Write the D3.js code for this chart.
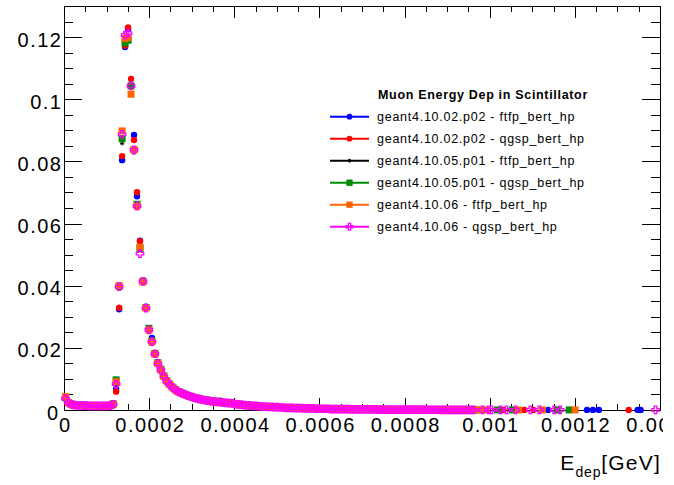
<!DOCTYPE html>
<html><head><meta charset="utf-8">
<script src="https://cdn.jsdelivr.net/npm/d3@7"></script>
<style>
html,body{margin:0;padding:0;background:#fff;}
svg{display:block;}
text{font-family:"Liberation Sans",Arial,Helvetica,sans-serif;fill:#000;}
</style></head><body>
<svg id="c" width="674" height="485"></svg>
<script>
// ---------------- DATA ----------------
// Histogram: 200 bins over [0, 0.0014] GeV
const xMin = 0, xMax = 0.0014, nBins = 200;
const yMax = 0.13;

const legendTitle = "Muon Energy Dep in Scintillator";
const seriesNames = [
  "geant4.10.02.p02 - ftfp_bert_hp",
  "geant4.10.02.p02 - qgsp_bert_hp",
  "geant4.10.05.p01 - ftfp_bert_hp",
  "geant4.10.05.p01 - qgsp_bert_hp",
  "geant4.10.06 - ftfp_bert_hp",
  "geant4.10.06 - qgsp_bert_hp"
];

// bin contents for bins 0..137
const g1002ftfp = [
0.0039,0.0022,0.0018,0.0016,0.0016,0.0015,0.0015,0.0014,0.0014,0.0014,
0.0014,0.0014,0.0013,0.0014,0.0014,0.0015,0.0017,0.0068,0.0324,0.0804,
0.1168,0.1225,0.1043,0.0885,0.0688,0.0545,0.0418,0.0332,0.0258,0.0232,
0.0183,0.0151,0.0130,0.0109,0.0093,0.0080,0.0072,0.0064,0.0058,0.0053,
0.0050,0.0046,0.0043,0.0041,0.0037,0.0035,0.0034,0.0031,0.0030,0.0028,
0.0027,0.0026,0.0030,0.0024,0.0023,0.0022,0.0021,0.0019,0.0018,0.0017,
0.0016,0.0015,0.0014,0.0013,0.0013,0.0012,0.0011,0.0011,0.0010,0.0010,
0.0009,0.0009,0.0008,0.0008,0.0007,0.0007,0.0007,0.0006,0.0006,0.0006,
0.0005,0.0005,0.0005,0.0005,0.0004,0.0004,0.0004,0.0004,0.0004,0.0003,
0.0003,0.0003,0.0003,0.0003,0.0003,0.0003,0.0002,0.0002,0.0002,0.0002,
0.0002,0.0002,0.0002,0.0002,0.0002,0.0002,0.00015,0.00015,0.00015,0.00015,
0.00015,0.00015,0.00012,0.00012,0.00012,0.00012,0.0001,0.0001,0.0001,0.0001,
0.0001,0.0001,0.0001,0.00008,0,0.00008,0.00008,0,0.00006,0.00006,
0,0.00005,0,0.00005,0,0.00004,0,0];
const g1002qgsp = [
0.0038,0.0023,0.0017,0.0016,0.0015,0.0015,0.0014,0.0014,0.0014,0.0013,
0.0013,0.0013,0.0013,0.0013,0.0014,0.0014,0.0016,0.0059,0.0329,0.0817,
0.1172,0.1231,0.1065,0.0869,0.0701,0.0543,0.0416,0.0331,0.0260,0.0221,
0.0181,0.0150,0.0128,0.0108,0.0092,0.0081,0.0071,0.0063,0.0058,0.0054,
0.0049,0.0046,0.0043,0.0040,0.0037,0.0035,0.0033,0.0031,0.0029,0.0028,
0.0027,0.0025,0.0025,0.0024,0.0023,0.0022,0.0020,0.0019,0.0018,0.0017,
0.0016,0.0015,0.0014,0.0013,0.0012,0.0012,0.0011,0.0010,0.0010,0.0009,
0.0009,0.0008,0.0008,0.0008,0.0007,0.0007,0.0006,0.0006,0.0006,0.0005,
0.0005,0.0005,0.0005,0.0004,0.0004,0.0004,0.0004,0.0003,0.0004,0.0003,
0.0003,0.0003,0.0003,0.0003,0.0002,0.0003,0.0002,0.0002,0.0002,0.0002,
0.0002,0.0002,0.0002,0.00015,0.0002,0.00015,0.00015,0.00015,0.00012,0.00015,
0.00012,0.00012,0.00012,0.0001,0.00012,0.0001,0.0001,0.0001,0.00008,0.0001,
0.00008,0.00008,0,0.00008,0.00006,0,0.00006,0.00006,0,0.00005,
0.00005,0,0.00004,0,0.00004,0,0.00003,0];
const g1005ftfp = [
0.0040,0.0023,0.0018,0.0016,0.0015,0.0015,0.0014,0.0014,0.0013,0.0014,
0.0013,0.0013,0.0013,0.0012,0.0013,0.0014,0.0018,0.0078,0.0390,0.0858,
0.1180,0.1205,0.1040,0.0828,0.0660,0.0515,0.0412,0.0329,0.0257,0.0220,
0.0180,0.0149,0.0129,0.0107,0.0092,0.0081,0.0071,0.0064,0.0057,0.0054,
0.0050,0.0046,0.0042,0.0040,0.0037,0.0035,0.0033,0.0031,0.0030,0.0028,
0.0027,0.0026,0.0024,0.0024,0.0023,0.0021,0.0021,0.0019,0.0018,0.0017,
0.0016,0.0015,0.0014,0.0013,0.0013,0.0012,0.0011,0.0011,0.0010,0.0009,
0.0009,0.0009,0.0008,0.0007,0.0007,0.0007,0.0006,0.0006,0.0006,0.0005,
0.0005,0.0005,0.0004,0.0005,0.0004,0.0004,0.0004,0.0004,0.0003,0.0003,
0.0003,0.0003,0.0003,0.0002,0.0003,0.0003,0.0002,0.0002,0.0002,0.0002,
0.0002,0.0002,0.00015,0.0002,0.0002,0.00015,0.00015,0.00012,0.00015,0.00015,
0.00012,0.00015,0.00012,0.00012,0.0001,0.0001,0.0001,0.00008,0.0001,0.0001,
0.00008,0,0.00008,0.00008,0.00006,0.00006,0,0.00006,0.00005,0,
0.00005,0.00004,0,0.00004,0,0.00003,0,0];
const g1005qgsp = [
0.0040,0.0024,0.0019,0.0017,0.0016,0.0016,0.0015,0.0015,0.0014,0.0014,
0.0014,0.0014,0.0013,0.0013,0.0014,0.0015,0.0020,0.0097,0.0398,0.0873,
0.1181,0.1190,0.1043,0.0837,0.0662,0.0520,0.0414,0.0330,0.0263,0.0222,
0.0182,0.0152,0.0131,0.0110,0.0094,0.0083,0.0073,0.0065,0.0059,0.0055,
0.0051,0.0047,0.0044,0.0041,0.0038,0.0036,0.0034,0.0032,0.0031,0.0029,
0.0028,0.0026,0.0025,0.0024,0.0023,0.0022,0.0021,0.0020,0.0018,0.0017,
0.0016,0.0015,0.0014,0.0014,0.0013,0.0012,0.0011,0.0011,0.0010,0.0010,
0.0009,0.0009,0.0008,0.0008,0.0007,0.0007,0.0007,0.0006,0.0006,0.0006,
0.0005,0.0005,0.0005,0.0005,0.0004,0.0004,0.0004,0.0004,0.0004,0.0003,
0.0003,0.0003,0.0003,0.0003,0.0003,0.0002,0.0002,0.0002,0.0002,0.0002,
0.0002,0.0002,0.0002,0.0002,0.00015,0.00015,0.00015,0.00015,0.00015,0.00012,
0.00015,0.00012,0.00012,0.00012,0.0001,0.00012,0.0001,0.0001,0.0001,0.00008,
0.0001,0.00008,0.00008,0,0.00008,0.00006,0.00006,0,0.00006,0.00005,
0,0.00005,0.00004,0,0.00004,0,0.00003,0];
const g1006ftfp = [
0.0043,0.0024,0.0018,0.0016,0.0016,0.0015,0.0015,0.0014,0.0014,0.0014,
0.0013,0.0013,0.0013,0.0013,0.0013,0.0014,0.0019,0.0091,0.0400,0.0898,
0.1195,0.1199,0.1016,0.0838,0.0656,0.0524,0.0412,0.0328,0.0257,0.0219,
0.0180,0.0150,0.0128,0.0108,0.0093,0.0082,0.0072,0.0064,0.0058,0.0054,
0.0050,0.0046,0.0043,0.0040,0.0038,0.0035,0.0033,0.0031,0.0030,0.0029,
0.0027,0.0026,0.0025,0.0024,0.0023,0.0022,0.0021,0.0019,0.0018,0.0017,
0.0016,0.0015,0.0014,0.0013,0.0013,0.0012,0.0011,0.0011,0.0010,0.0010,
0.0009,0.0009,0.0008,0.0008,0.0007,0.0007,0.0007,0.0006,0.0006,0.0006,
0.0005,0.0005,0.0005,0.0005,0.0004,0.0004,0.0004,0.0004,0.0004,0.0003,
0.0003,0.0003,0.0003,0.0003,0.0003,0.0003,0.0002,0.0002,0.0002,0.0002,
0.0002,0.0002,0.0002,0.0002,0.0002,0.00015,0.00015,0.00015,0.00015,0.00015,
0.00015,0.00012,0.00012,0.00012,0.00012,0.0001,0.0001,0.0001,0.0001,0.0001,
0.0001,0.0001,0.00008,0.00008,0.00008,0.00008,0.00006,0.00006,0.00006,0.00006,
0.00005,0.00005,0.00005,0.00004,0.00004,0.00004,0.00003,0.00003];
const g1006qgsp = [
0.0037,0.0023,0.0018,0.0016,0.0015,0.0015,0.0014,0.0014,0.0013,0.0013,
0.0013,0.0013,0.0013,0.0013,0.0013,0.0014,0.0018,0.0083,0.0397,0.0887,
0.1206,0.1213,0.1043,0.0837,0.0656,0.0503,0.0414,0.0328,0.0258,0.0220,
0.0181,0.0150,0.0129,0.0108,0.0092,0.0081,0.0071,0.0064,0.0058,0.0054,
0.0050,0.0046,0.0043,0.0040,0.0037,0.0035,0.0033,0.0031,0.0030,0.0028,
0.0027,0.0026,0.0025,0.0024,0.0023,0.0022,0.0021,0.0019,0.0018,0.0017,
0.0016,0.0015,0.0014,0.0013,0.0013,0.0012,0.0011,0.0011,0.0010,0.0010,
0.0009,0.0009,0.0008,0.0008,0.0007,0.0007,0.0007,0.0006,0.0006,0.0006,
0.0005,0.0005,0.0005,0.0005,0.0004,0.0004,0.0004,0.0004,0.0004,0.0003,
0.0003,0.0003,0.0003,0.0003,0.0003,0.0003,0.0002,0.0002,0.0002,0.0002,
0.0002,0.0002,0.0002,0.0002,0.0002,0.00015,0.00015,0.00015,0.00015,0.00015,
0.00015,0.00012,0.00012,0.00012,0.00012,0.0001,0.0001,0.0001,0.0001,0.0001,
0.0001,0.0001,0.00008,0.00008,0.00008,0.00008,0.00006,0.00006,0.00006,0.00006,
0.00005,0.00005,0.00005,0.00004,0.00004,0.00004,0.00003,0.00003];

// sparse far-tail bins: [bin index, content]
const g1002ftfpTail = [[162,0.00003],[175,0.00003],[177,0.00003],[179,0.00003],[192,0.00003],[193,0.00003]];
const g1002qgspTail = [[147,0.00003],[154,0.00003],[157,0.00003],[189,0.00003]];
const g1005ftfpTail = [[144,0.00003],[149,0.00003]];
const g1005qgspTail = [[138,0.00003],[145,0.00003],[150,0.00003],[165,0.00003],[169,0.00003]];
const g1006ftfpTail = [[139,0.00003],[141,0.00003],[152,0.00003],[160,0.00003],[171,0.00003]];
const g1006qgspTail = [[140,0.00003],[142,0.00003],[143,0.00003],[146,0.00003],[148,0.00003],[151,0.00003],[156,0.00003],[159,0.00003],[164,0.00003],[166,0.00003],[198,0.00003]];

const xTickValues = [0,0.0002,0.0004,0.0006,0.0008,0.001,0.0012,0.0014];
const xTickLabels = ["0","0.0002","0.0004","0.0006","0.0008","0.001","0.0012","0.0014"];
const yTickValues = [0,0.02,0.04,0.06,0.08,0.1,0.12];
const yTickLabels = ["0","0.02","0.04","0.06","0.08","0.1","0.12"];
const xAxisTitleMain = "E", xAxisTitleSub = "dep", xAxisTitleUnit = "[GeV]";

// ---------------- STYLE ----------------
const seriesColors = ["#0000ff","#ff0000","#000000","#008c00","#ff6600","#ff00ff"];
const seriesMarkers = ["circle","circle","star","square","square","opencross"];

// ---------------- BUILD ----------------
const denseList = [g1002ftfp,g1002qgsp,g1005ftfp,g1005qgsp,g1006ftfp,g1006qgsp];
const tailList = [g1002ftfpTail,g1002qgspTail,g1005ftfpTail,g1005qgspTail,g1006ftfpTail,g1006qgspTail];
const binW = (xMax - xMin) / nBins;
const series = seriesNames.map((name, k) => {
  const pts = [];
  denseList[k].forEach((v, i) => { if (v > 0) pts.push({x: xMin + (i + 0.5) * binW, y: v}); });
  tailList[k].forEach(([i, v]) => { if (v > 0) pts.push({x: xMin + (i + 0.5) * binW, y: v}); });
  return {name, color: seriesColors[k], marker: seriesMarkers[k], pts};
});

const svg = d3.select("#c");
const x = d3.scaleLinear().domain([xMin, xMax]).range([64, 660]);
const y = d3.scaleLinear().domain([0, yMax]).range([410, 6]);

const FONT = 20, LS = 1.5;
function styleAxis(g) {
  g.select(".domain").remove();
  g.selectAll("line").attr("stroke", "#000").attr("stroke-width", 1).attr("shape-rendering", "crispEdges");
}
const xMinor = d3.range(0, 29).map(i => i * 0.00005);
const yMinor = d3.range(0, 27).map(i => i * 0.005);

// clip for rightmost x label
svg.append("defs").append("clipPath").attr("id", "xlabclip")
  .append("rect").attr("x", -20).attr("y", -30).attr("width", 683).attr("height", 80);

// bottom axis
svg.append("g").attr("transform", "translate(0,410)")
  .call(d3.axisBottom(x).tickValues(xMinor).tickSize(-6).tickFormat("")).call(styleAxis);
const xb = svg.append("g").attr("transform", "translate(0,410)").attr("clip-path", "url(#xlabclip)")
  .call(d3.axisBottom(x).tickValues(xTickValues).tickSize(-12).tickFormat((d, i) => xTickLabels[i])).call(styleAxis);
xb.selectAll("text").attr("y", 22).attr("dy", null).attr("dx", LS / 2)
  .attr("font-size", FONT).attr("letter-spacing", LS).attr("font-family", null).attr("fill", "#000");
xb.attr("font-family", null).attr("font-size", null);

// top axis
svg.append("g").attr("transform", "translate(0,6)")
  .call(d3.axisTop(x).tickValues(xMinor).tickSize(-6).tickFormat("")).call(styleAxis);
svg.append("g").attr("transform", "translate(0,6)")
  .call(d3.axisTop(x).tickValues(xTickValues).tickSize(-12).tickFormat("")).call(styleAxis);

// left axis
svg.append("g").attr("transform", "translate(64,0)")
  .call(d3.axisLeft(y).tickValues(yMinor).tickSize(-9).tickFormat("")).call(styleAxis);
const yl = svg.append("g").attr("transform", "translate(64,0)")
  .call(d3.axisLeft(y).tickValues(yTickValues).tickSize(-18).tickFormat((d, i) => yTickLabels[i])).call(styleAxis);
yl.selectAll("text").attr("x", d => d === 0 ? -4.5 : -1.5).attr("dy", 9)
  .attr("font-size", FONT).attr("letter-spacing", LS).attr("fill", "#000");
yl.attr("font-family", null).attr("font-size", null);

// right axis
svg.append("g").attr("transform", "translate(660,0)")
  .call(d3.axisRight(y).tickValues(yMinor).tickSize(-9).tickFormat("")).call(styleAxis);
svg.append("g").attr("transform", "translate(660,0)")
  .call(d3.axisRight(y).tickValues(yTickValues).tickSize(-18).tickFormat("")).call(styleAxis);

// frame
svg.append("rect").attr("x", 64.5).attr("y", 6.5).attr("width", 596).attr("height", 404)
  .attr("fill", "none").attr("stroke", "#000").attr("stroke-width", 1).attr("shape-rendering", "crispEdges");

// markers
function drawMarker(sel, type, color, s) {
  s = s || 1;
  if (type === "circle") {
    sel.append("circle").attr("r", 3.2 * s).attr("fill", color);
  } else if (type === "square") {
    sel.append("rect").attr("x", -3.5 * s).attr("y", -3.5 * s).attr("width", 7 * s).attr("height", 7 * s).attr("fill", color);
  } else if (type === "star") {
    const a = 2.2 * s, b = 1.6 * s;
    sel.append("path").attr("d", `M${-a},0L${a},0M0,${-a}L0,${a}M${-b},${-b}L${b},${b}M${-b},${b}L${b},${-b}`)
      .attr("stroke", color).attr("stroke-width", 0.9).attr("fill", "none");
  } else if (type === "opencross") {
    const o = 3.7 * s, i = 1.25 * s;
    sel.append("path").attr("d", `M${-i},${-o}L${i},${-o}L${i},${-i}L${o},${-i}L${o},${i}L${i},${i}L${i},${o}L${-i},${o}L${-i},${i}L${-o},${i}L${-o},${-i}L${-i},${-i}Z`)
      .attr("stroke", color).attr("stroke-width", 1.3).attr("fill", "none");
  }
}
const plot = svg.append("g");
series.forEach(s => {
  const g = plot.append("g");
  s.pts.forEach(p => {
    const m = g.append("g").attr("transform", `translate(${x(p.x)},${y(p.y)})`);
    drawMarker(m, s.marker, s.color, 1);
  });
});

// legend
const leg = svg.append("g");
leg.append("text").attr("x", 378).attr("y", 99).attr("font-size", 12.5).attr("font-weight", "bold")
  .attr("letter-spacing", 0.68).text(legendTitle);
series.forEach((s, k) => {
  const cy = 116.7 + 22 * k;
  leg.append("line").attr("x1", 330).attr("x2", 369).attr("y1", cy).attr("y2", cy)
    .attr("stroke", s.color).attr("stroke-width", 2);
  const m = leg.append("g").attr("transform", `translate(349.5,${cy})`);
  drawMarker(m, s.marker, s.color, 0.9);
  leg.append("text").attr("x", 377).attr("y", cy + 4.5).attr("font-size", 12.5)
    .attr("letter-spacing", 0.74).text(s.name);
});

// x axis title
const t = svg.append("text").attr("x", 661).attr("y", 470).attr("text-anchor", "end")
  .attr("font-size", 21).attr("letter-spacing", 1.2);
t.append("tspan").text(xAxisTitleMain);
t.append("tspan").attr("font-size", 14).attr("dy", 7).attr("letter-spacing", 0.8).text(xAxisTitleSub);
t.append("tspan").attr("dy", -7).text(xAxisTitleUnit);
</script>
</body></html>
